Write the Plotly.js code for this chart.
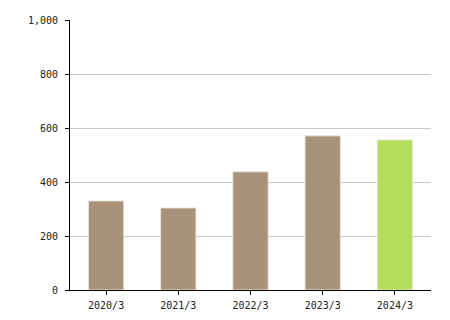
<!DOCTYPE html>
<html>
<head>
<meta charset="utf-8">
<script src="https://cdn.plot.ly/plotly-3.0.1.min.js"></script>
<style>html,body{margin:0;padding:0;background:#fff;}#chart{width:450px;height:320px;}</style>
</head>
<body>
<div id="chart"></div>
<script>
const categories = ["2020/3", "2021/3", "2022/3", "2023/3", "2024/3"];
const values = [330, 304, 438, 571, 556];
const barColors = ["#a9927a", "#a9927a", "#a9927a", "#a9927a", "#b5dc5a"];
const yTicks = [0, 200, 400, 600, 800, 1000];

const data = [{
  type: "bar",
  x: categories,
  y: values,
  marker: { color: barColors, line: { color: "#ece6df", width: 1 } },
  width: 0.49,
  hoverinfo: "none"
}];

const layout = {
  width: 450, height: 320,
  margin: { l: 70, r: 19, t: 20, b: 30 },
  paper_bgcolor: "#fff", plot_bgcolor: "#fff",
  showlegend: false,
  font: { family: "DejaVu Sans Mono, monospace", size: 10, color: "#222" },
  xaxis: {
    type: "category",
    showline: true, linecolor: "#000", linewidth: 1,
    ticks: "outside", ticklen: 4, tickcolor: "#000",
    showgrid: false, zeroline: false,
    ticklabelstandoff: 2,
    tickfont: { size: 10 }
  },
  yaxis: {
    range: [0, 1000],
    tickvals: yTicks,
    tickformat: ",",
    showline: true, linecolor: "#000", linewidth: 1,
    ticks: "outside", ticklen: 4, tickcolor: "#000",
    showgrid: true, gridcolor: "#c8c8c8", gridwidth: 1,
    zeroline: false,
    ticklabelstandoff: 5,
    tickfont: { size: 10 }
  }
};

Plotly.newPlot("chart", data, layout, { staticPlot: true, displayModeBar: false });
</script>
</body>
</html>
